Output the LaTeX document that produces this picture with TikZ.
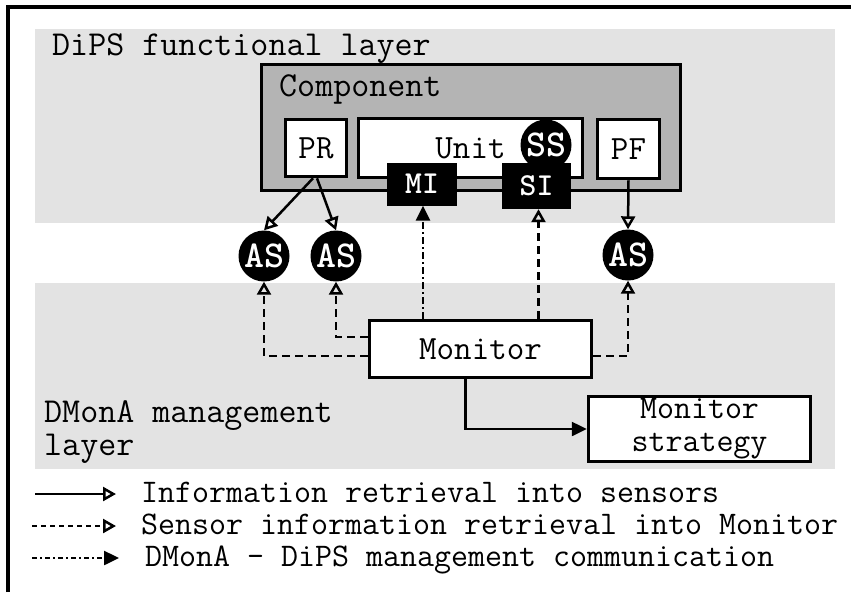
\documentclass[tikz,border=0pt]{standalone}
\usepackage{fontspec}
\usepackage{tikz}
\usetikzlibrary{arrows.meta, positioning, calc}
\definecolor{myTier}{RGB}{227,227,227}
\definecolor{myComp}{RGB}{180,180,180}

\begin{document}
\begin{tikzpicture}[
  x=1pt, y=-1pt,
  tier/.style={fill=myTier, inner sep=0pt},
  box/.style={draw, line width=3.5pt, fill=white, inner sep=0pt, font=\ttfamily\fontsize{34}{34}\selectfont},
  blk/.style={fill=black, text=white, inner sep=0pt, font=\ttfamily\bfseries\fontsize{32}{32}\selectfont},
  sensor/.style={circle, fill=black, text=white, minimum size=51pt, inner sep=0pt, font=\ttfamily\bfseries\fontsize{38}{38}\selectfont},
  lbl/.style={anchor=base west, inner sep=0pt, font=\ttfamily\fontsize{35}{33}\selectfont},
  key/.style={anchor=base west, inner sep=0pt, font=\ttfamily\fontsize{33}{33}\selectfont},
  info/.style={line width=2.5pt, -{Triangle[open, length=13pt, width=14pt]}},
  sens/.style={info, dash pattern=on 8pt off 5pt},
  mgmt/.style={line width=2.5pt, dash pattern=on 7pt off 3pt on 2pt off 3pt, -{Triangle[length=15pt, width=14pt]}},
]
  \useasboundingbox (0,0) rectangle (851,592);
  \draw[line width=3.5pt] (8,592) -- (8,7) -- (851,7);

  \node[tier, minimum width=800pt, minimum height=194pt] (dips) at (435,126) {};
  \node[tier, minimum width=800pt, minimum height=186pt] (dmona) at (435,376) {};
  \node[lbl] (dipsLbl) at (52,55) {DiPS functional layer};
  \node[lbl, align=left] (dmonaLbl) at (44,455) {DMonA management\\layer};

  \node[box, fill=myComp, minimum width=419pt, minimum height=126pt] (comp) at (471,127.5) {};
  \node[lbl] (compLbl) at (279,96) {Component};
  \node[box, minimum width=61pt, minimum height=57pt] (PR) at (316,148) {PR};
  \node[box, minimum width=224pt, minimum height=59pt] (unit) at (470.5,148) {Unit};
  \node[box, minimum width=62pt, minimum height=59pt] (PF) at (628.5,149) {PF};
  \node[sensor] (SS) at (546,145) {SS};
  \node[blk, minimum width=70pt, minimum height=43pt] (MI) at (422,184) {MI};
  \node[blk, minimum width=69pt, minimum height=46pt] (SI) at (536.5,186) {SI};

  \node[sensor] (AS1) at (264,256) {AS};
  \node[sensor] (AS2) at (336,256) {AS};
  \node[sensor] (AS3) at (628,255) {AS};

  \node[box, minimum width=222pt, minimum height=57pt] (monitor) at (480.5,349) {Monitor};
  \node[box, minimum width=222pt, minimum height=65pt, align=center,
        font=\ttfamily\fontsize{33}{33}\selectfont] (strategy) at (699.5,429) {Monitor\\strategy};

  \draw[info] ([xshift=-3pt]PR.south) -- (AS1.north);
  \draw[info] ([xshift=1pt]PR.south) -- (AS2.north);
  \draw[info] (PF.south) -- (AS3.north);

  \draw[sens] ([yshift=-7pt]monitor.west) -| (AS1.south);
  \draw[sens] ([yshift=12pt]monitor.west) -| (AS2.south);
  \draw[sens] ([yshift=-7pt]monitor.east) -| (AS3.south);
  \draw[sens] ([xshift=2pt]SI.south |- monitor.north) -- ([xshift=2pt]SI.south);
  \draw[mgmt] ([xshift=1pt]MI.south |- monitor.north) -- ([xshift=1pt]MI.south);
  \draw[line width=2.5pt, -{Triangle[length=15pt, width=14pt]}]
    ([xshift=-15pt]monitor.south) |- (strategy.west);

  \coordinate (k1a) at (35,494);  \coordinate (k1b) at (116,494);
  \coordinate (k2a) at (32,526);  \coordinate (k2b) at (116,526);
  \coordinate (k3a) at (32,558);  \coordinate (k3b) at (119,558);
  \draw[info] (k1a) -- (k1b);
  \draw[info, dash pattern=on 5pt off 4pt] (k2a) -- (k2b);
  \draw[mgmt, dash pattern=on 5pt off 3pt on 2pt off 3pt] (k3a) -- (k3b);
  \node[key] (k1) at (141,502) {Information retrieval into sensors};
  \node[key] (k2) at (141,534) {Sensor information retrieval into Monitor};
  \node[key] (k3) at (145,566) {DMonA - DiPS management communication};
\end{tikzpicture}
\end{document}
